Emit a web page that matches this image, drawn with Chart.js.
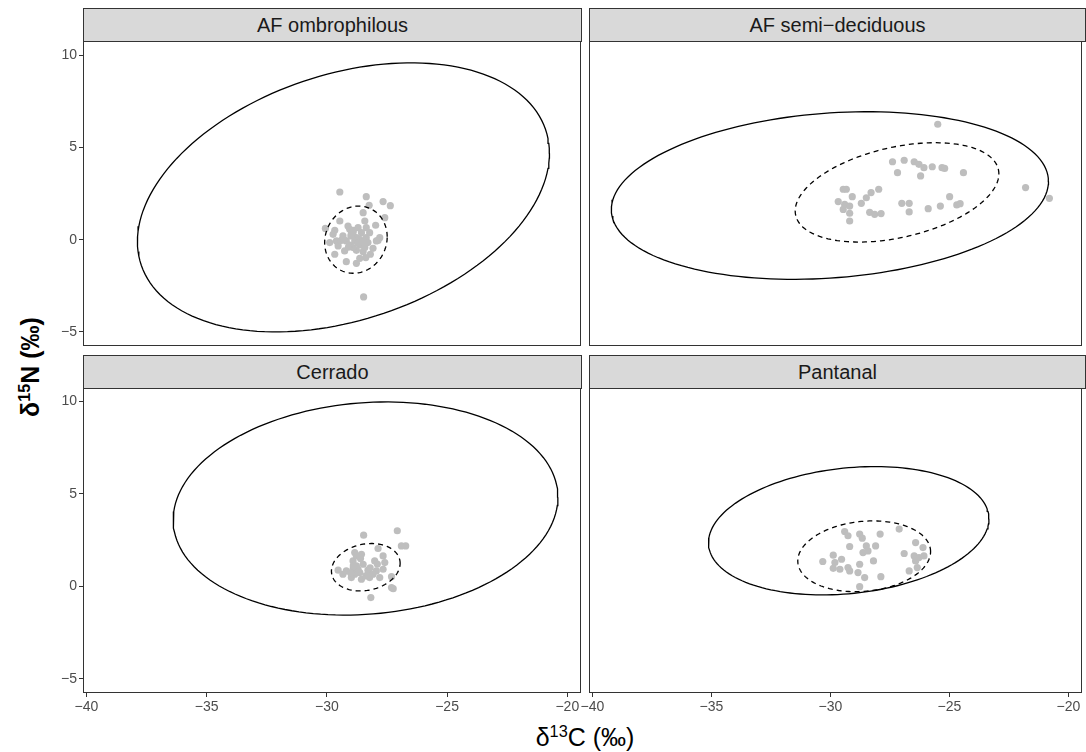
<!DOCTYPE html>
<html>
<head>
<meta charset="utf-8">
<script src="https://cdn.jsdelivr.net/npm/chart.js@4.4.1/dist/chart.umd.min.js"></script>
<style>
  body { margin: 0; background: #fff; font-family: "Liberation Sans", Arial, sans-serif; }
  #wrap { position: relative; width: 1086px; height: 752px; overflow: hidden; }
  canvas { position: absolute; }
  .strip { position: absolute; box-sizing: border-box; background: #d9d9d9; border: 1px solid #333;
           color: #1a1a1a; font-size: 20px; display: flex; align-items: center; justify-content: center; }
  .title { position: absolute; white-space: nowrap; color: #000; font-size: 25px; }
  .title sup { font-size: 65%; }
</style>
</head>
<body>
<div id="wrap">
  <div class="title" style="left:30px;top:367px;transform:translate(-50%,-50%) rotate(-90deg);font-weight:bold">δ<sup>15</sup>N (‰)</div>
  <div class="title" style="left:585px;top:737px;transform:translate(-50%,-50%)">δ<sup>13</sup>C (‰)</div>
</div>
<script>
// facets
const panelNames = ['AF ombrophilous', 'AF semi\u2212deciduous', 'Cerrado', 'Pantanal'];
const xTicks = [-40, -35, -30, -25, -20];
const yTicks = [-5, 0, 5, 10];

// samples (d13C, d15N)
const ombroX = [-29.46,-28.36,-28.24,-27.66,-27.36,-28.49,-28.42,-27.59,-29.46,-27.97,-30.06,-29.67,-29.05,-28.91,-28.56,-29.33,-29.60,-29.19,-28.77,-28.36,-27.80,-27.87,-29.53,-29.05,-28.63,-28.29,-28.77,-28.49,-28.19,-29.67,-29.19,-28.77,-28.38,-28.47,-28.98,-28.84,-29.40,-28.63,-28.08,-29.74,-29.12,-28.70,-28.91,-28.42,-29.26,-28.22,-27.94,-29.88,-28.63,-28.36,-29.30,-29.00,-28.70,-28.90,-28.50,-29.10];
const ombroY = [2.58,2.33,1.86,2.06,1.84,1.46,1.01,1.19,1.01,0.78,0.61,0.51,0.56,0.38,0.38,0.20,-0.07,-0.07,0.11,0.11,0.11,-0.04,-0.34,-0.29,-0.29,-0.16,-0.58,-0.65,-0.79,-0.79,-1.19,-1.28,-0.97,-3.10,0.32,-0.07,-0.04,-1.01,-0.47,0.29,0.74,0.65,-0.43,-0.43,-0.61,0.38,-0.07,-0.16,0.02,0.65,0.00,0.20,-0.20,0.50,-0.10,-0.40];

const semiX = [-25.49,-27.39,-26.90,-26.48,-26.28,-26.07,-25.72,-25.31,-25.20,-27.18,-26.21,-24.41,-21.80,-20.80,-29.46,-29.33,-27.97,-28.29,-28.49,-28.70,-29.08,-29.67,-29.40,-29.19,-29.46,-29.19,-29.19,-28.35,-28.14,-27.87,-27.00,-26.69,-26.69,-25.89,-25.38,-24.99,-24.69,-24.55];
const semiY = [6.25,4.22,4.30,4.22,4.08,3.90,3.95,3.90,3.86,3.63,3.45,3.63,2.82,2.24,2.73,2.73,2.73,2.55,2.27,1.97,2.33,2.06,1.91,1.82,1.64,1.43,1.01,1.48,1.37,1.41,1.97,1.97,1.50,1.68,1.82,2.33,1.88,1.95];

const cerradoX = [-28.47,-27.07,-26.90,-26.72,-27.87,-28.84,-28.56,-27.66,-28.01,-28.91,-27.59,-28.49,-29.53,-29.19,-28.91,-28.63,-28.29,-27.94,-27.66,-28.98,-28.56,-28.22,-27.80,-27.31,-29.33,-28.77,-27.31,-27.24,-28.17,-28.77,-28.08,-28.84,-28.38,-29.00,-28.70,-28.30,-28.60,-28.90,-28.20,-27.90];
const cerradoY = [2.76,3.00,2.18,2.18,2.04,1.82,1.73,1.64,1.37,1.37,1.28,1.19,0.87,0.83,0.92,0.74,0.87,0.83,0.92,0.47,0.38,0.47,0.47,0.52,0.65,1.10,-0.07,-0.13,-0.61,1.64,0.65,0.65,0.56,0.70,0.90,0.60,1.50,1.10,1.00,1.20];

const pantanalX = [-29.40,-29.26,-28.77,-28.66,-27.91,-27.11,-29.19,-28.49,-28.10,-28.63,-28.42,-26.42,-26.11,-26.90,-26.48,-26.28,-26.07,-26.42,-26.69,-26.35,-30.32,-29.88,-29.53,-29.81,-29.88,-29.26,-29.19,-28.77,-28.19,-28.84,-28.56,-27.88,-28.77,-29.60];
const pantanalY = [2.96,2.73,2.82,2.60,2.82,3.09,2.15,2.18,2.18,1.82,1.91,2.36,2.09,1.77,1.64,1.55,1.64,1.37,0.83,1.01,1.34,1.68,1.46,1.28,0.97,1.01,0.83,1.19,1.37,0.74,0.47,0.52,-0.02,0.92];

// ellipses: centre and covariance, one value per facet
const outerCx  = [-29.31, -30.02, -28.39, -29.23];
const outerCy  = [2.29, 2.39, 4.20, 3.00];
const outerSxx = [73.4, 84.3, 64.0, 34.7];
const outerSyy = [53.1, 20.6, 33.1, 12.0];
const outerSxy = [20.5, 7.0, 4.9, 3.8];
const innerCx  = [-28.79, -27.20, -28.38, -28.58];
const innerCy  = [0.00, 2.56, 1.03, 1.62];
const innerSxx = [1.69, 18.3, 2.04, 7.78];
const innerSyy = [3.31, 7.24, 1.64, 3.65];
const innerSxy = [0.2, 4.3, 0.3, 0.7];

const samplesX = [ombroX, semiX, cerradoX, pantanalX];
const samplesY = [ombroY, semiY, cerradoY, pantanalY];

const FONT = '"Liberation Sans", Arial, sans-serif';
const fmt = v => v < 0 ? '\u2212' + Math.abs(v) : String(v);

function ellipse(cx, cy, sxx, syy, sxy) {
  const l11 = Math.sqrt(sxx), l21 = sxy / l11, l22 = Math.sqrt(syy - l21 * l21);
  const pts = [];
  for (let i = 0; i <= 160; i++) {
    const t = i / 160 * Math.PI * 2;
    pts.push({ x: cx + l11 * Math.cos(t), y: cy + l21 * Math.cos(t) + l22 * Math.sin(t) });
  }
  return pts;
}

const panelBorder = {
  id: 'panelBorder',
  afterDraw(chart) {
    const { ctx, chartArea: a } = chart;
    ctx.save();
    ctx.strokeStyle = '#333';
    ctx.lineWidth = 1;
    ctx.strokeRect(a.left + 0.5, a.top + 0.5, a.right - a.left - 1, a.bottom - a.top - 1);
    ctx.restore();
  }
};

// canvas boxes: chart area of each facet lands on the reference panel
const boxes = [
  { left: 0,   top: 30,  w: 590, h: 325, pad: { left: 0,  right: 9, top: 11, bottom: 9 }, showX: false, showY: true,  strip: [83, 8] },
  { left: 560, top: 30,  w: 526, h: 325, pad: { left: 29, right: 1, top: 11, bottom: 9 }, showX: false, showY: false, strip: [589, 8] },
  { left: 0,   top: 377, w: 590, h: 345, pad: { left: 0,  right: 9, top: 10, bottom: 0 }, showX: true,  showY: true,  strip: [83, 355] },
  { left: 560, top: 377, w: 526, h: 345, pad: { left: 29, right: 1, top: 10, bottom: 0 }, showX: true,  showY: false, strip: [589, 355] },
];

const wrap = document.getElementById('wrap');

boxes.forEach((b, i) => {
  const cv = document.createElement('canvas');
  cv.width = b.w; cv.height = b.h;
  cv.style.left = b.left + 'px'; cv.style.top = b.top + 'px';
  wrap.appendChild(cv);

  const strip = document.createElement('div');
  strip.className = 'strip';
  strip.style.left = b.strip[0] + 'px';
  strip.style.top = b.strip[1] + 'px';
  strip.style.width = (i % 2 ? 497 : 499) + 'px';
  strip.style.height = '34px';
  strip.textContent = panelNames[i];
  wrap.appendChild(strip);

  const tickStyle = { color: '#4d4d4d', font: { size: 14, family: FONT }, padding: 2 };
  const gridStyle = { display: true, drawOnChartArea: false, drawTicks: true, tickLength: 4, color: '#333', lineWidth: 1 };

  new Chart(cv, {
    type: 'scatter',
    data: {
      datasets: [
        { data: ellipse(innerCx[i], innerCy[i], innerSxx[i], innerSyy[i], innerSxy[i]), showLine: true,
          borderColor: '#000', borderWidth: 1.3, borderDash: [5, 4], pointRadius: 0, fill: false },
        { data: ellipse(outerCx[i], outerCy[i], outerSxx[i], outerSyy[i], outerSxy[i]), showLine: true,
          borderColor: '#000', borderWidth: 1.3, pointRadius: 0, fill: false },
        { data: samplesX[i].map((x, k) => ({ x, y: samplesY[i][k] })),
          pointRadius: 3.6, pointBackgroundColor: '#bebebe', pointBorderWidth: 0, borderWidth: 0 },
      ]
    },
    options: {
      responsive: false, animation: false, events: [],
      layout: { padding: b.pad },
      plugins: { legend: { display: false }, tooltip: { enabled: false } },
      scales: {
        x: {
          type: 'linear', min: -40.14, max: -19.43, display: b.showX,
          afterBuildTicks: s => { s.ticks = xTicks.map(v => ({ value: v })); },
          afterFit: s => { if (b.showX) s.height = 29; s.paddingLeft = 0; s.paddingRight = 0; },
          ticks: { ...tickStyle, maxRotation: 0, autoSkip: false, callback: fmt },
          grid: gridStyle, border: { display: false }
        },
        y: {
          type: 'linear', min: -5.76, max: 10.76, display: b.showY,
          afterBuildTicks: s => { s.ticks = yTicks.map(v => ({ value: v })); },
          afterFit: s => { if (b.showY) s.width = 83; s.paddingTop = 0; s.paddingBottom = 0; },
          ticks: { ...tickStyle, autoSkip: false, callback: fmt },
          grid: gridStyle, border: { display: false }
        }
      }
    },
    plugins: [panelBorder]
  });
});
</script>
</body>
</html>
